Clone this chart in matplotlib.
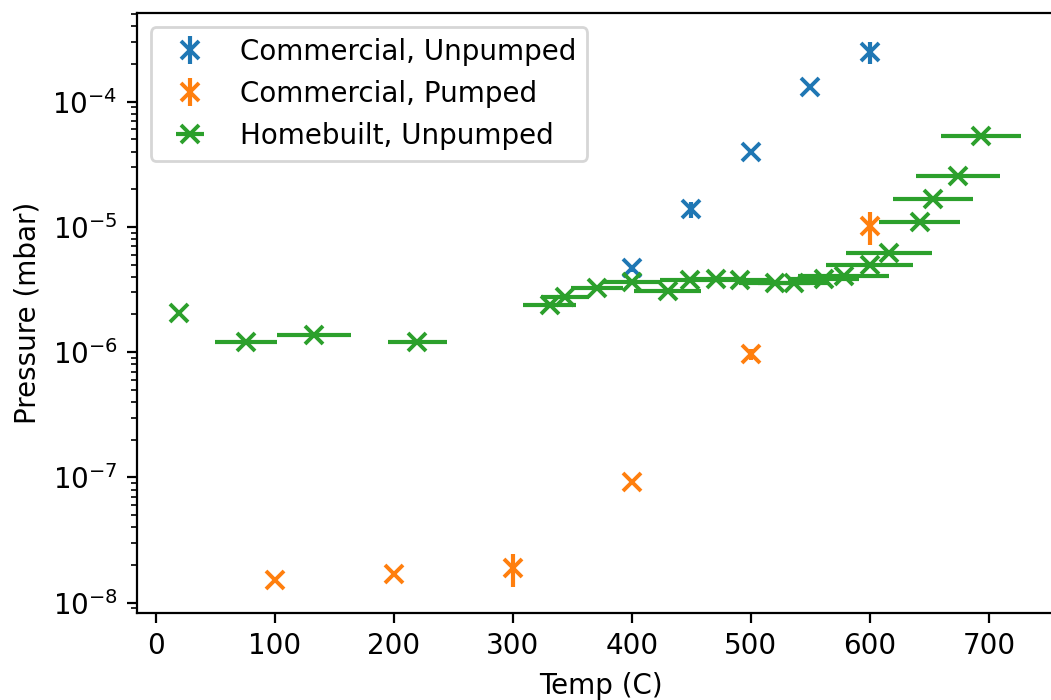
import numpy as np
import matplotlib.pyplot as plt

# commercial oven, no pumping
cu_temp = [400, 450, 500, 550, 600]
cu_pres = [4.7e-6, 1.38e-5, 3.98e-5, 1.31e-4, 2.5e-4]
cu_err = [3e-7, 2e-6, 0, 0, 5e-5]

# commercial oven, pumped
cp_temp = [100, 200, 300, 400, 500, 600]
cp_pres = [1.52e-8, 1.69e-8, 1.88e-8, 9.14e-8, 9.7e-7, 1.02e-5]
cp_err = [0, 0, 5.5e-9, 0, 1e-7, 3e-6]

# homebuilt oven, no pumping (temperature binned)
hb_temp = [20, 76, 133, 220, 331, 344, 371, 400, 430, 449, 471, 491,
           520, 536, 561, 578, 600, 616, 642, 653, 674, 693.5]
hb_pres = [2.06e-6, 1.21e-6, 1.37e-6, 1.21e-6, 2.4e-6, 2.77e-6, 3.24e-6,
           3.66e-6, 3.1e-6, 3.77e-6, 3.82e-6, 3.77e-6, 3.55e-6, 3.55e-6,
           3.82e-6, 4.06e-6, 4.97e-6, 6.2e-6, 1.10e-5, 1.66e-5, 2.55e-5,
           5.32e-5]
hb_terr = [0, 26, 31, 25, 22, 20, 22, 25, 28, 25, 25, 25,
           30, 30, 30, 38, 36.5, 36, 34, 33.5, 35, 33.7]

DPI = 200
fig = plt.figure(figsize=(1051/DPI, 700/DPI), dpi=DPI)
ax = fig.add_axes([0.1304, 0.1243, 0.882, 0.857])

ax.errorbar(cu_temp, cu_pres, yerr=cu_err, fmt='x', ms=6.8, mew=1.4, label='Commercial, Unpumped')
ax.errorbar(cp_temp, cp_pres, yerr=cp_err, fmt='x', ms=6.8, mew=1.4, label='Commercial, Pumped')
ax.errorbar(hb_temp, hb_pres, xerr=hb_terr, fmt='x', ms=6.8, mew=1.4, label='Homebuilt, Unpumped')

ax.set_yscale('log')
ax.set_xlim(-15.5, 763)
ax.set_ylim(8.27e-9, 5.1e-4)
ax.set_xlabel('Temp (C)')
ax.set_ylabel('Pressure (mbar)')
ax.legend(loc='upper left')

plt.savefig('out.png', dpi=DPI)
